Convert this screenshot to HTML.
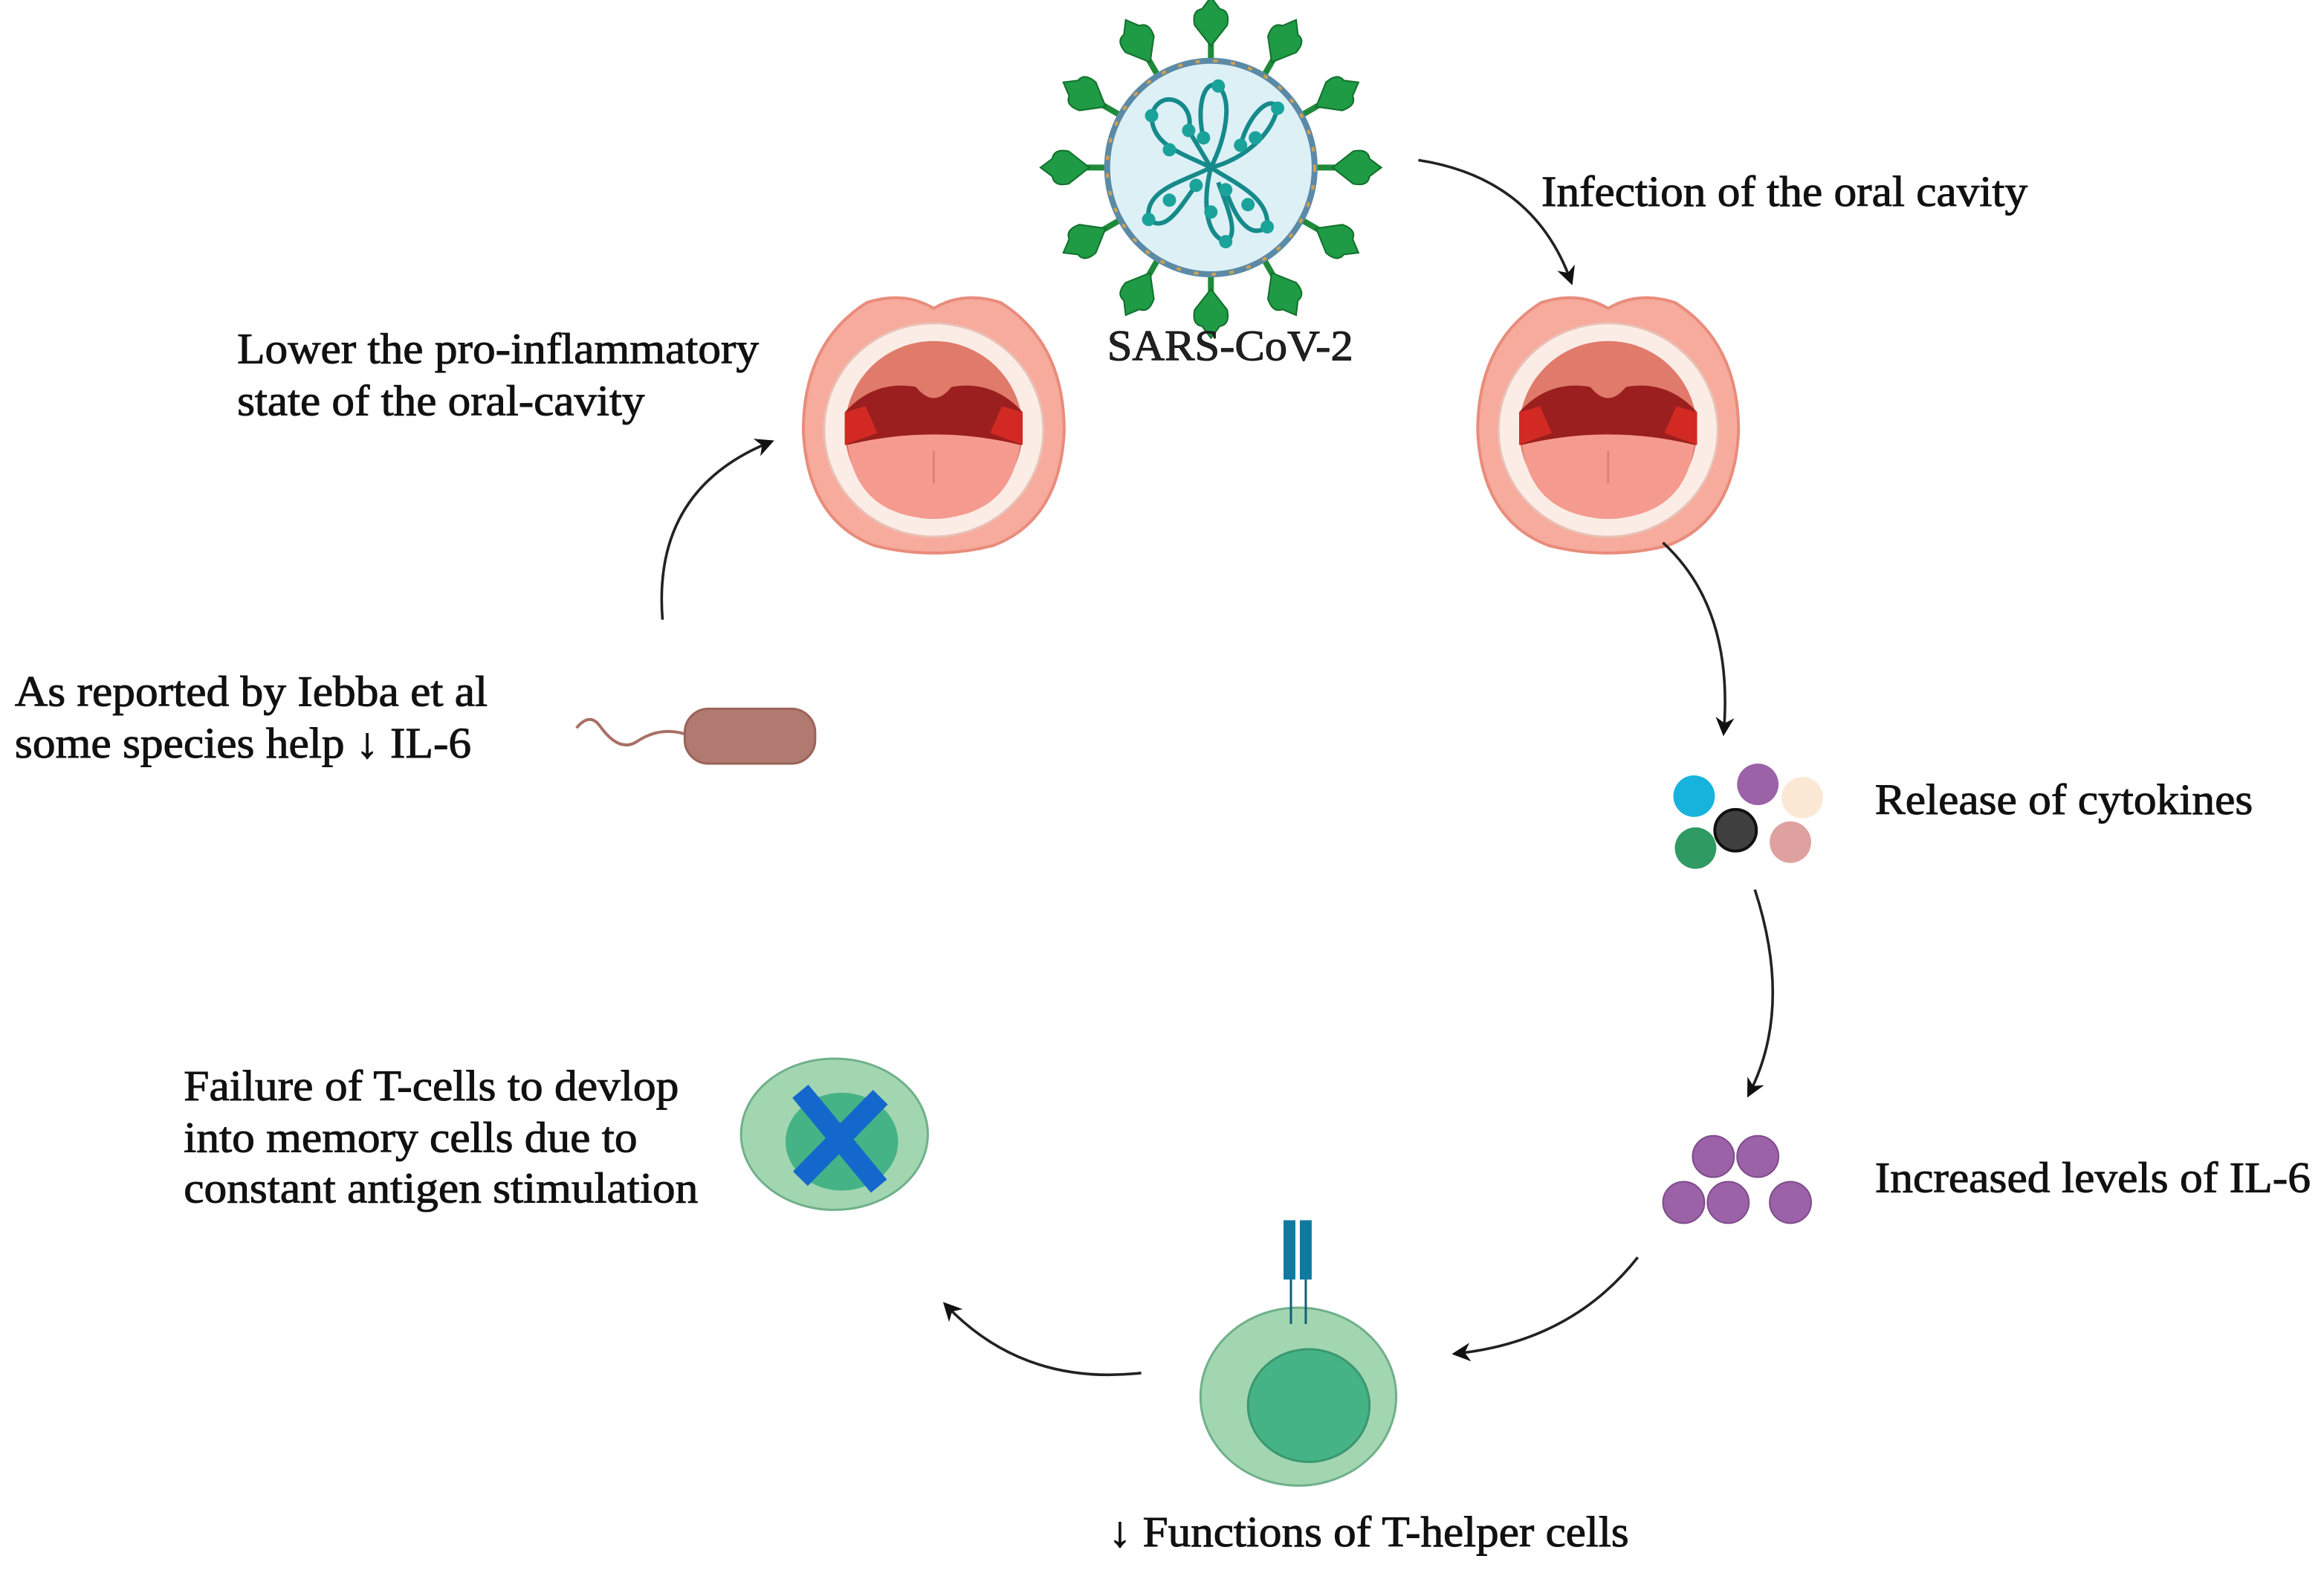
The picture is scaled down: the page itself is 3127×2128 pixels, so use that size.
<!DOCTYPE html>
<html><head><meta charset="utf-8"><style>html,body{margin:0;padding:0;background:#fff}svg{display:block}</style></head>
<body>
<svg width="3127" height="2128" viewBox="0 0 1568 1067" preserveAspectRatio="none" xmlns="http://www.w3.org/2000/svg">
<defs>
<marker id="ah" viewBox="0 0 10 10" refX="8" refY="5" markerWidth="7" markerHeight="7" orient="auto"><path d="M0,0 L10,5 L0,10 L3,5 z" fill="#111"/></marker>
<g id="spike">
  <line x1="0" y1="-68" x2="0" y2="-90" stroke="#1f8a3a" stroke-width="4"/>
  <path d="M0,-82 L-11,-96 Q-13,-106 -6,-107 L0,-115 L6,-107 Q13,-106 11,-96 Z" fill="#1f9a45" stroke="#11702c" stroke-width="1"/>
</g>
<g id="mouth">
  <path d="M0,-78 Q-20,-90 -45,-82 Q-88,-55 -88,5 Q-85,65 -40,82 Q0,92 40,82 Q85,65 88,5 Q88,-55 45,-82 Q20,-90 0,-78 Z" fill="#f6ab9c" stroke="#e98c7c" stroke-width="2"/>
  <ellipse cx="0" cy="4" rx="74" ry="72" fill="#fbece6" stroke="#e9c1b6" stroke-width="1.5"/>
  <ellipse cx="0" cy="4" rx="60" ry="60" fill="#e07a6a"/>
  <path d="M-60,-8 Q-40,-30 -12,-25 Q0,-10 12,-25 Q40,-30 60,-8 L60,14 L-60,14 Z" fill="#9b1f1e"/>
  <path d="M-60,-8 L-46,-12 L-38,6 L-60,14 Z" fill="#d22a22"/>
  <path d="M60,-8 L46,-12 L38,6 L60,14 Z" fill="#d22a22"/>
  <path d="M-58,14 Q0,0 58,14 Q52,62 0,64 Q-52,62 -58,14 Z" fill="#f59a8f"/>
  <line x1="0" y1="18" x2="0" y2="40" stroke="#e27f75" stroke-width="1.5"/>
</g>
</defs>

<!-- virus -->
<g transform="translate(817,113)">
  <use href="#spike" transform="rotate(0)"/><use href="#spike" transform="rotate(30)"/><use href="#spike" transform="rotate(60)"/>
  <use href="#spike" transform="rotate(90)"/><use href="#spike" transform="rotate(120)"/><use href="#spike" transform="rotate(150)"/>
  <use href="#spike" transform="rotate(180)"/><use href="#spike" transform="rotate(210)"/><use href="#spike" transform="rotate(240)"/>
  <use href="#spike" transform="rotate(270)"/><use href="#spike" transform="rotate(300)"/><use href="#spike" transform="rotate(330)"/>
  <ellipse cx="0" cy="0" rx="70" ry="72" fill="#dcf0f6" stroke="#5b8aa6" stroke-width="4"/>
  <ellipse cx="0" cy="0" rx="70" ry="72" fill="none" stroke="#d1a050" stroke-width="2" stroke-dasharray="3 9"/>
  <g fill="none" stroke="#168a8a" stroke-width="3">
    <path d="M0,0 C-20,-10 -40,-15 -40,-35 C-35,-55 -10,-45 -15,-25 Z"/>
    <path d="M0,0 C10,-20 15,-45 5,-55 C-5,-60 -10,-40 -5,-20"/>
    <path d="M0,0 C20,-5 40,-20 45,-40 C40,-50 25,-35 20,-15"/>
    <path d="M0,0 C15,10 40,20 38,40 C25,50 15,30 10,15"/>
    <path d="M0,0 C-5,20 -5,45 10,50 C20,45 10,25 5,10"/>
    <path d="M0,0 C-20,10 -45,15 -42,35 C-30,45 -20,25 -10,12"/>
  </g>
  <g fill="#1aa39a">
    <circle cx="-40" cy="-35" r="4.5"/><circle cx="-28" cy="-12" r="4.5"/><circle cx="-15" cy="-25" r="4.5"/><circle cx="5" cy="-55" r="4.5"/>
    <circle cx="-5" cy="-20" r="4.5"/><circle cx="20" cy="-15" r="4.5"/><circle cx="45" cy="-40" r="4.5"/><circle cx="30" cy="-20" r="4.5"/>
    <circle cx="38" cy="40" r="4.5"/><circle cx="10" cy="15" r="4.5"/><circle cx="10" cy="50" r="4.5"/><circle cx="0" cy="30" r="4.5"/>
    <circle cx="-42" cy="35" r="4.5"/><circle cx="-10" cy="12" r="4.5"/><circle cx="25" cy="25" r="4.5"/><circle cx="-28" cy="22" r="4.5"/>
  </g>
</g>

<use href="#mouth" transform="translate(630,286)"/>
<use href="#mouth" transform="translate(1085,286)"/>

<!-- bacterium -->
<path d="M389,491 Q398,480 405,490 Q418,508 430,500 Q445,490 462,495" fill="none" stroke="#a96f66" stroke-width="2"/>
<rect x="462" y="478" width="88" height="37" rx="16" fill="#b17a70" stroke="#9a6359" stroke-width="1.5"/>

<!-- cytokines -->
<circle cx="1143" cy="537" r="14" fill="#17b3dd"/>
<circle cx="1186" cy="529" r="14" fill="#9b62a8"/>
<circle cx="1216" cy="538" r="14" fill="#fbe9d6"/>
<circle cx="1171" cy="560" r="14" fill="#3f403f" stroke="#111" stroke-width="2"/>
<circle cx="1144" cy="572" r="14" fill="#2f9a62"/>
<circle cx="1208" cy="568" r="14" fill="#dea1a0"/>

<!-- IL-6 -->
<g fill="#9b62a8" stroke="#7e4b8a" stroke-width="1">
<circle cx="1156" cy="780" r="14"/><circle cx="1186" cy="780" r="14"/>
<circle cx="1136" cy="811" r="14"/><circle cx="1166" cy="811" r="14"/><circle cx="1208" cy="811" r="14"/>
</g>

<!-- T helper cell -->
<ellipse cx="876" cy="942" rx="66" ry="60" fill="#a2d6b1" stroke="#6fb08a" stroke-width="1.5"/>
<ellipse cx="883" cy="948" rx="41" ry="38" fill="#46b386" stroke="#3a9870" stroke-width="1.5"/>
<g stroke="#0f5f7a" stroke-width="1.5" fill="none"><line x1="871" y1="862" x2="871" y2="893"/><line x1="881" y1="862" x2="881" y2="893"/></g>
<rect x="866" y="823" width="8" height="40" fill="#0f7aa0"/>
<rect x="877" y="823" width="8" height="40" fill="#0f7aa0"/>

<!-- failure cell -->
<ellipse cx="563" cy="765" rx="63" ry="51" fill="#a2d6b1" stroke="#6fb08a" stroke-width="1.5"/>
<ellipse cx="568" cy="770" rx="38" ry="33" fill="#46b386"/>
<line x1="540" y1="736" x2="593" y2="800" stroke="#1468cc" stroke-width="14"/>
<line x1="594" y1="740" x2="540" y2="795" stroke="#1468cc" stroke-width="14"/>

<!-- arrows -->
<g fill="none" stroke="#222" stroke-width="1.8" marker-end="url(#ah)">
<path d="M957,108 Q1035,120 1060,190"/>
<path d="M1122,366 Q1170,410 1163,494"/>
<path d="M1184,600 Q1210,680 1180,738"/>
<path d="M1105,848 Q1060,905 982,913"/>
<path d="M770,926 Q690,935 638,880"/>
<path d="M447,418 Q440,330 520,298"/>
</g>

<!-- text -->
<g font-family="'Liberation Serif', serif" font-size="29" fill="#111" stroke="#111" stroke-width="0.5">
<text x="747" y="243" textLength="166" lengthAdjust="spacingAndGlyphs" fill="#222">SARS-CoV-2</text>
<text x="1040" y="139" textLength="328" lengthAdjust="spacingAndGlyphs">Infection of the oral cavity</text>
<text x="160" y="245" textLength="352" lengthAdjust="spacingAndGlyphs">Lower the pro-inflammatory</text>
<text x="160" y="280" textLength="275" lengthAdjust="spacingAndGlyphs">state of the oral-cavity</text>
<text x="10" y="476" textLength="319" lengthAdjust="spacingAndGlyphs">As reported by Iebba et al</text>
<text x="10" y="511" textLength="308" lengthAdjust="spacingAndGlyphs">some species help ↓ IL-6</text>
<text x="1265" y="549" textLength="255" lengthAdjust="spacingAndGlyphs">Release of cytokines</text>
<text x="1265" y="804" textLength="294" lengthAdjust="spacingAndGlyphs">Increased levels of IL-6</text>
<text x="124" y="742" textLength="334" lengthAdjust="spacingAndGlyphs">Failure of T-cells to devlop</text>
<text x="124" y="777" textLength="306" lengthAdjust="spacingAndGlyphs">into memory cells due to</text>
<text x="124" y="811" textLength="347" lengthAdjust="spacingAndGlyphs">constant antigen stimulation</text>
<text x="748" y="1043" textLength="351" lengthAdjust="spacingAndGlyphs">↓ Functions of T-helper cells</text>
</g>
</svg>
</body></html>
